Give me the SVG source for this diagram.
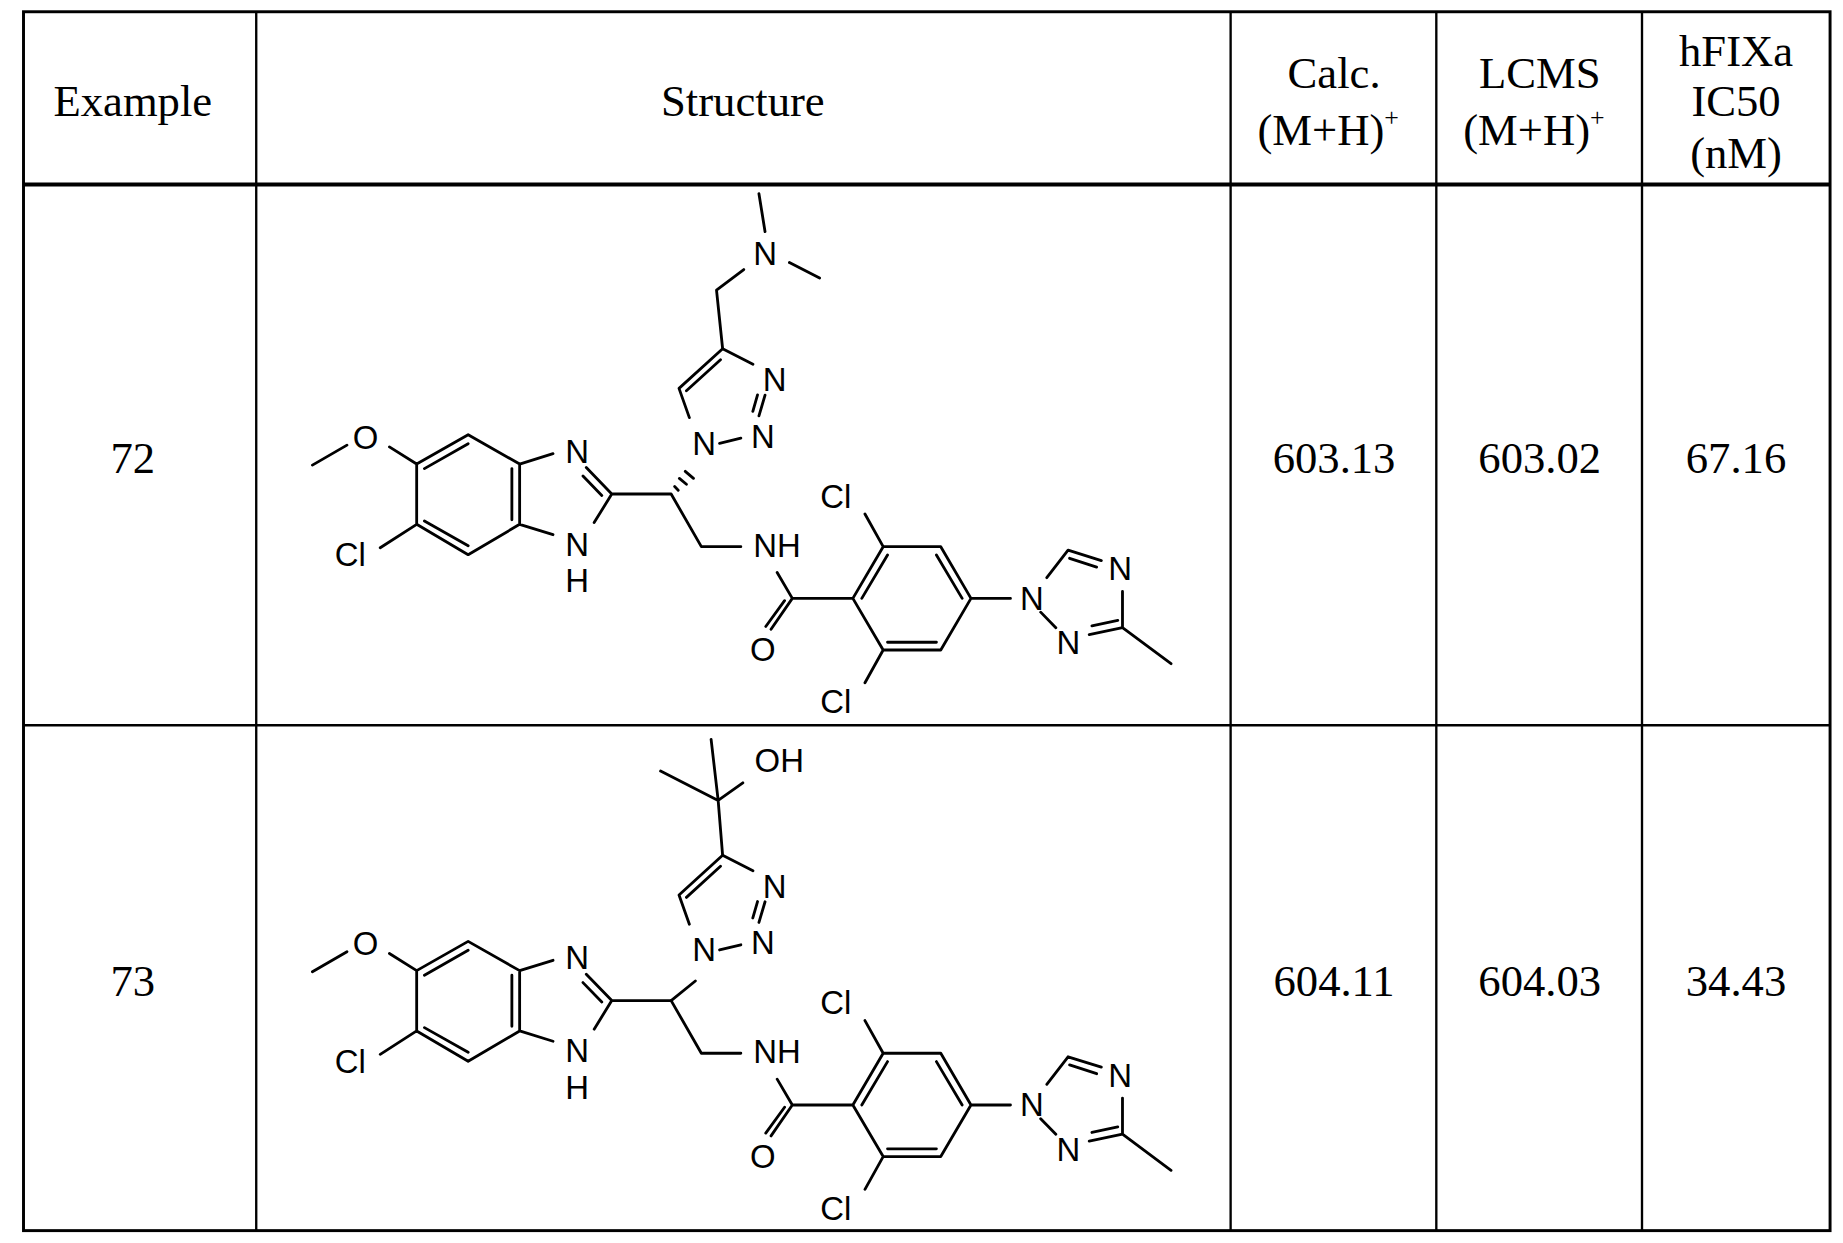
<svg xmlns="http://www.w3.org/2000/svg" width="1843" height="1243" viewBox="0 0 1843 1243">
<style>
.t{font-family:"Liberation Serif",serif;font-size:38px;fill:#000;text-anchor:middle}
.a{font-family:"Liberation Sans",Arial,sans-serif;font-size:28px;fill:#000;text-anchor:middle;dominant-baseline:central}
.b{stroke:#000;stroke-width:2.4;fill:none;stroke-linecap:round;stroke-linejoin:round}
.g{stroke:#000;fill:none}
</style>
<rect width="1843" height="1243" fill="#fff"/>
<g transform="scale(1.17538)">
<g id="table">
<rect class="g" x="20" y="10" width="1537" height="1037" stroke-width="2.5"/>
<line class="g" x1="20" y1="157" x2="1557" y2="157" stroke-width="3.5"/>
<line class="g" x1="20" y1="617" x2="1557" y2="617" stroke-width="2"/>
<line class="g" x1="218" y1="10" x2="218" y2="1047" stroke-width="2"/>
<line class="g" x1="1047" y1="10" x2="1047" y2="1047" stroke-width="2"/>
<line class="g" x1="1222" y1="10" x2="1222" y2="1047" stroke-width="2"/>
<line class="g" x1="1397" y1="10" x2="1397" y2="1047" stroke-width="2"/>
</g>
<g id="header">
<text class="t" x="113" y="99">Example</text>
<text class="t" x="632" y="99">Structure</text>
<text class="t" x="1135" y="75">Calc.</text>
<text class="t" x="1130" y="123">(M+H)<tspan font-size="22" dy="-16">+</tspan></text>
<text class="t" x="1310" y="75">LCMS</text>
<text class="t" x="1305" y="123">(M+H)<tspan font-size="22" dy="-16">+</tspan></text>
<text class="t" x="1477" y="56">hFIXa</text>
<text class="t" x="1477" y="99">IC50</text>
<text class="t" x="1477" y="143">(nM)</text>
</g>
<g id="row72">
<text class="t" x="113" y="402">72</text>
<text class="t" x="1135" y="402">603.13</text>
<text class="t" x="1310" y="402">603.02</text>
<text class="t" x="1477" y="402">67.16</text>
</g>
<g id="row73">
<text class="t" x="113" y="847">73</text>
<text class="t" x="1135" y="847">604.11</text>
<text class="t" x="1310" y="847">604.03</text>
<text class="t" x="1477" y="847">34.43</text>
</g>
<defs>
<g id="core">
<path class="b" d="M265.8,395.7 L295.2,378.7 M331.3,380.2 L354.5,394.8 M354.5,394.8 L398.3,369.9 L442.1,394.8 L442.1,446.1 L398.3,471.9 L354.5,446.1 Z M361.1,398.7 L398.3,377.5 M435.5,398.7 L435.5,442.2 M361.1,443.3 L398.3,464.3 M354.5,446.1 L323.5,466 M442.1,394.8 L470.5,386 M442.1,446.1 L470.5,454.9 M498.8,397.8 L520.5,420.3 L505.5,444.6 M496,405 L512,421.5 M520.5,420.3 L571,420.3 L596.7,465.1 L630.3,465.1 M661.2,487.1 L674.1,509.1 L656,535.4 M667.5,511 L651.5,533 M674.1,509.1 L725.6,509.1 M725.6,509.1 L751.4,465.1 L800.4,465.1 L826.1,509.1 L800.4,553 L751.4,553 Z M733.2,509.1 L755.1,472.2 M796.7,472.2 L818.6,509.1 M796.7,546.4 L755.1,546.4 M751.4,465.1 L735.9,437.3 M751.4,553 L735.9,580.9 M826.1,509.1 L859.7,509.1 M890.6,491.5 L908.7,468.1 L937,476.9 M910,475 L933,482.5 M955,503.2 L955,534 L926.7,539.9 M951,527.8 L929,532.5 M898.3,534 L885.4,520.8 M955,534 L996.3,564.7 M586.5,355.3 L577.7,330.4 L614.8,296.7 L640.6,309.9 M584,332.5 L613,306 M650.9,336.2 L645.7,353.8 M644.5,336 L640.5,350 M630.3,372.8 L612.2,377.2"/>
<text class="a" x="311" y="372">O</text>
<text class="a" x="298" y="472">Cl</text>
<text class="a" x="491" y="384">N</text>
<text class="a" x="491" y="463">N</text>
<text class="a" x="491" y="494">H</text>
<text class="a" x="661" y="464">NH</text>
<text class="a" x="649" y="553">O</text>
<text class="a" x="711" y="422">Cl</text>
<text class="a" x="711" y="597">Cl</text>
<text class="a" x="878" y="509">N</text>
<text class="a" x="953" y="484">N</text>
<text class="a" x="909" y="547">N</text>
<text class="a" x="599" y="377">N</text>
<text class="a" x="659" y="323">N</text>
<text class="a" x="649" y="371">N</text>
</g>
</defs>
<g id="mol72">
<use href="#core"/>
<path class="b" d="M574,414 L577,417 M578,407 L584,412 M583,401 L590,407 M614.8,296.7 L609.6,246.9 L632.8,229.3 M650.9,197.1 L645.7,164.8 M671.6,223.4 L697.3,236.6"/>
<text class="a" x="651" y="216">N</text>
</g>
<g id="mol73" transform="translate(0,431)">
<use href="#core"/>
<path class="b" d="M571,420.3 L591.6,403.6 M614.8,296.7 L611,250 L562,225 M611,250 L605,198 M611,250 L632,235"/>
<text class="a" x="663" y="216">OH</text>
</g>
</g>
</svg>
